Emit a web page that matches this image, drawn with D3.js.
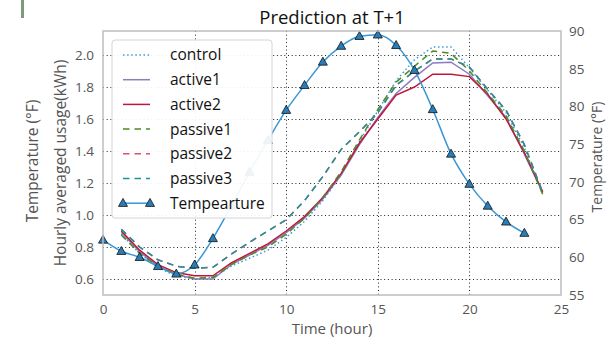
<!DOCTYPE html>
<html>
<head>
<meta charset="utf-8">
<script src="https://cdn.jsdelivr.net/npm/d3@7"></script>
<style>
body { margin: 0; background: #fff; }
svg text { font-family: "Open Sans", sans-serif; }
</style>
</head>
<body>
<svg id="chart" width="615" height="342"></svg>
<script>
// data
var hours = [1, 2, 3, 4, 5, 6, 7, 8, 9, 10, 11, 12, 13, 14, 15, 16, 17, 18, 19, 20, 21, 22, 23, 24];
var control  = [0.88, 0.76, 0.67, 0.62, 0.60, 0.61, 0.68, 0.73, 0.78, 0.86, 0.96, 1.09, 1.25, 1.46, 1.65, 1.84, 1.97, 2.05, 2.05, 1.92, 1.78, 1.64, 1.42, 1.13];
var active1  = [0.89, 0.77, 0.68, 0.63, 0.60, 0.60, 0.69, 0.75, 0.81, 0.89, 0.98, 1.10, 1.25, 1.44, 1.61, 1.76, 1.86, 1.95, 1.955, 1.88, 1.745, 1.61, 1.38, 1.14];
var active2  = [0.90, 0.78, 0.69, 0.64, 0.62, 0.62, 0.70, 0.76, 0.82, 0.90, 0.99, 1.11, 1.26, 1.45, 1.60, 1.75, 1.80, 1.88, 1.88, 1.865, 1.755, 1.60, 1.39, 1.145];
var passive1 = [0.875, 0.76, 0.68, 0.63, 0.605, 0.61, 0.69, 0.75, 0.80, 0.88, 0.98, 1.11, 1.27, 1.47, 1.66, 1.83, 1.93, 2.025, 2.01, 1.90, 1.76, 1.62, 1.40, 1.13];
var passive2 = [0.91, 0.80, 0.72, 0.68, 0.667, 0.673, 0.755, 0.83, 0.90, 0.97, 1.09, 1.24, 1.41, 1.52, 1.64, 1.81, 1.90, 1.975, 1.975, 1.925, 1.785, 1.655, 1.44, 1.14];
var passive3 = [0.91, 0.80, 0.72, 0.68, 0.667, 0.673, 0.755, 0.83, 0.90, 0.97, 1.09, 1.24, 1.41, 1.52, 1.64, 1.81, 1.90, 1.975, 1.975, 1.925, 1.785, 1.655, 1.44, 1.14];

var tempHours = [0, 1, 2, 3, 4, 5, 6, 7, 8, 9, 10, 11, 12, 13, 14, 15, 16, 17, 18, 19, 20, 21, 22, 23];
var temperature = [62.3, 60.8, 60.0, 58.8, 57.8, 59.0, 62.5, 66.8, 71.3, 75.5, 79.5, 82.8, 85.9, 88.0, 89.3, 89.5, 88.1, 84.8, 79.6, 73.7, 69.7, 66.8, 64.7, 63.2];

var xTicks = [0, 5, 10, 15, 20, 25];
var yTicks = [0.6, 0.8, 1.0, 1.2, 1.4, 1.6, 1.8, 2.0];
var tTicks = [55, 60, 65, 70, 75, 80, 85, 90];

var series = [
    {name: 'control',  values: control,  color: '#3d9ad6', dash: '1.5,2.6'},
    {name: 'active1',  values: active1,  color: '#8a7cbf', dash: null},
    {name: 'active2',  values: active2,  color: '#c0163c', dash: null},
    {name: 'passive1', values: passive1, color: '#4e8a1e', dash: '6.5,5'},
    {name: 'passive2', values: passive2, color: '#e0506e', dash: '6.5,5'},
    {name: 'passive3', values: passive3, color: '#1a9496', dash: '6.5,5'}
];

var svg = d3.select('#chart');
// plot box (note: "top" is taken by window.top, so use other names)
var pLeft = 103, pRight = 561, pTop = 31, pBottom = 295;

var x = d3.scaleLinear().domain([0, 25]).range([pLeft, pRight]);
var y = d3.scaleLinear().domain([0.5, 2.15]).range([pBottom, pTop]);
var yT = d3.scaleLinear().domain([55, 90]).range([pBottom, pTop]);

// odd green mark in the corner of the original
svg.append('rect').attr('x', 21).attr('y', 0).attr('width', 3).attr('height', 18)
    .attr('fill', '#7d9b7a');

// grid
var grid = svg.append('g').attr('stroke', '#222').attr('stroke-width', 1)
    .attr('stroke-dasharray', '1,2.7');
grid.selectAll('.hg').data(yTicks).enter().append('line')
    .attr('x1', pLeft).attr('x2', pRight)
    .attr('y1', function(d){ return Math.round(y(d)) + 0.5; })
    .attr('y2', function(d){ return Math.round(y(d)) + 0.5; });
grid.selectAll('.vg').data(xTicks.slice(1, 5)).enter().append('line')
    .attr('y1', pTop).attr('y2', pBottom)
    .attr('x1', function(d){ return Math.round(x(d)) + 0.5; })
    .attr('x2', function(d){ return Math.round(x(d)) + 0.5; });

// axes (labels only, frame drawn separately)
var xAxis = svg.append('g').attr('transform', 'translate(0,' + pBottom + ')')
    .call(d3.axisBottom(x).tickValues(xTicks).tickSize(0).tickPadding(9));
var yAxis = svg.append('g').attr('transform', 'translate(' + pLeft + ',0)')
    .call(d3.axisLeft(y).tickValues(yTicks).tickFormat(d3.format('.1f')).tickSize(0).tickPadding(9));
var tAxis = svg.append('g').attr('transform', 'translate(' + pRight + ',0)')
    .call(d3.axisRight(yT).tickValues(tTicks).tickSize(0).tickPadding(8));
[xAxis, yAxis, tAxis].forEach(function(a){
    a.select('.domain').remove();
    a.selectAll('text').attr('fill', '#555').style('font-size', '13.5px')
        .style('font-family', '"Open Sans", sans-serif');
});

// energy curves
var line = d3.line()
    .x(function(d){ return x(d[0]); })
    .y(function(d){ return y(d[1]); });

series.forEach(function(s){
    svg.append('path')
        .datum(d3.zip(hours, s.values))
        .attr('d', line)
        .attr('fill', 'none')
        .attr('stroke', s.color)
        .attr('stroke-width', 1.5)
        .attr('stroke-dasharray', s.dash);
});

// temperature curve with triangle markers
var tLine = d3.line()
    .x(function(d){ return x(d[0]); })
    .y(function(d){ return yT(d[1]); })
    .curve(d3.curveMonotoneX);

function triangle(cx, cy){
    return 'M' + cx + ',' + (cy - 4.8) + 'L' + (cx + 4.5) + ',' + (cy + 3.2) +
        'L' + (cx - 4.5) + ',' + (cy + 3.2) + 'Z';
}

var tData = d3.zip(tempHours, temperature);
svg.append('path').datum(tData).attr('d', tLine)
    .attr('fill', 'none').attr('stroke', '#3a97d4').attr('stroke-width', 1.5);
svg.selectAll('.tri').data(tData).enter().append('path')
    .attr('d', function(d){ return triangle(x(d[0]), yT(d[1])); })
    .attr('fill', '#2a7db8').attr('stroke', '#111').attr('stroke-width', 0.8);

// frame
svg.append('rect').attr('x', pLeft).attr('y', pTop)
    .attr('width', pRight - pLeft).attr('height', pBottom - pTop)
    .attr('fill', 'none').attr('stroke', '#bdbdbd').attr('stroke-width', 1.5);

// legend
var lg = svg.append('g');
lg.append('rect').attr('x', 112).attr('y', 40).attr('width', 160).attr('height', 178)
    .attr('rx', 3).attr('fill', '#fff').attr('fill-opacity', 0.92)
    .attr('stroke', '#d4d4d4').attr('stroke-width', 1);
series.forEach(function(s, i){
    var ly = 55 + i * 24.7;
    lg.append('line').attr('x1', 123).attr('x2', 150).attr('y1', ly).attr('y2', ly)
        .attr('stroke', s.color).attr('stroke-width', 1.5).attr('stroke-dasharray', s.dash);
    lg.append('text').attr('x', 170).attr('y', ly).attr('dy', '0.35em')
        .style('font-size', '15.5px').attr('fill', '#111').text(s.name);
});
var ty = 55 + 6 * 24.7;
lg.append('line').attr('x1', 123).attr('x2', 150).attr('y1', ty).attr('y2', ty)
    .attr('stroke', '#3a97d4').attr('stroke-width', 1.5);
[123, 150].forEach(function(cx){
    lg.append('path').attr('d', triangle(cx, ty))
        .attr('fill', '#2a7db8').attr('stroke', '#111').attr('stroke-width', 0.8);
});
lg.append('text').attr('x', 170).attr('y', ty).attr('dy', '0.35em')
    .style('font-size', '15.5px').attr('fill', '#111').text('Tempearture');

// titles
svg.append('text').attr('x', 332).attr('y', 24).attr('text-anchor', 'middle')
    .style('font-size', '18.5px').attr('fill', '#111').text('Prediction at T+1');
svg.append('text').attr('x', 332).attr('y', 334).attr('text-anchor', 'middle')
    .style('font-size', '15px').attr('fill', '#555').text('Time (hour)');
svg.append('text').attr('transform', 'translate(66,163) rotate(-90)')
    .attr('text-anchor', 'middle').style('font-size', '15.5px').attr('fill', '#555')
    .text('Hourly averaged usage(kWh)');
svg.append('text').attr('transform', 'translate(38,161) rotate(-90)')
    .attr('text-anchor', 'middle').style('font-size', '15.5px').attr('fill', '#555')
    .text('Temperature (°F)');
svg.append('text').attr('transform', 'translate(602,157) rotate(-90)')
    .attr('text-anchor', 'middle').style('font-size', '14px').attr('fill', '#555')
    .text('Temperature (°F)');
</script>
</body>
</html>
